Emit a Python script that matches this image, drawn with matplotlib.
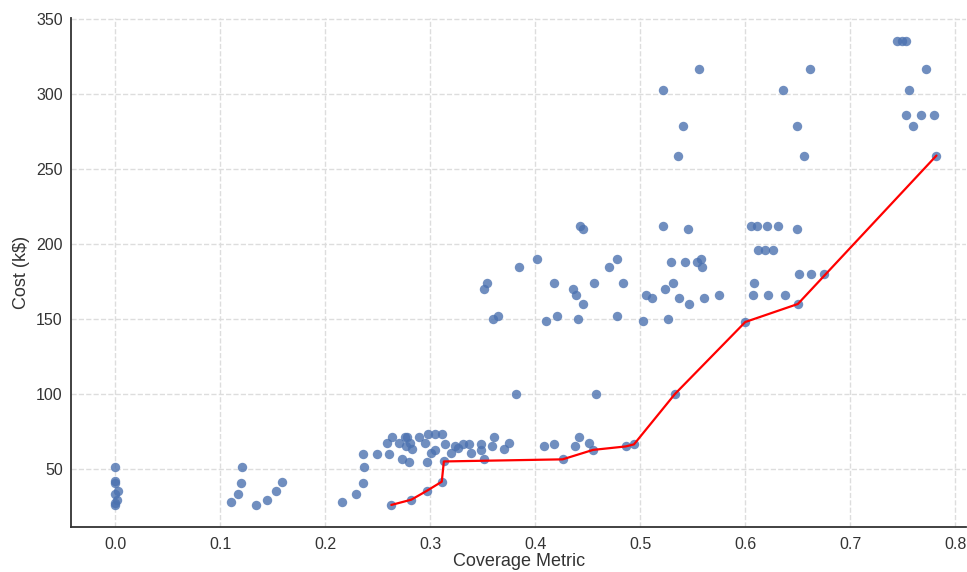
import matplotlib
matplotlib.use('Agg')
import matplotlib.pyplot as plt
import seaborn as sns

# all design points (coverage metric, cost in k$)
coverage = [
    0.000, 0.000, 0.000, 0.003, 0.000, 0.002, 0.000, 0.000,
    0.110, 0.117, 0.120, 0.121, 0.134, 0.145, 0.153, 0.159,
    0.216, 0.229, 0.236, 0.237, 0.236, 0.249, 0.261, 0.263, 0.259, 0.264,
    0.270, 0.273, 0.276, 0.278, 0.277, 0.281, 0.283, 0.280, 0.282, 0.289,
    0.295, 0.297, 0.297, 0.298, 0.305, 0.311, 0.301, 0.305, 0.314, 0.311,
    0.313, 0.320, 0.324, 0.326, 0.331, 0.337, 0.339, 0.348, 0.348, 0.351,
    0.359, 0.361, 0.370, 0.375,
    0.408, 0.418, 0.426, 0.438, 0.442, 0.451, 0.455, 0.486, 0.494, 0.533,
    0.351, 0.354, 0.360, 0.365, 0.382, 0.385, 0.402, 0.410, 0.421, 0.418,
    0.436, 0.439, 0.445, 0.441, 0.443, 0.445, 0.456, 0.458, 0.470, 0.478,
    0.484, 0.478, 0.503, 0.505, 0.511, 0.524, 0.526, 0.531, 0.537, 0.546,
    0.522, 0.545, 0.529, 0.543, 0.554, 0.558, 0.559, 0.561, 0.575,
    0.522, 0.541, 0.536, 0.556,
    0.600, 0.605, 0.611, 0.621, 0.631, 0.649, 0.612, 0.619, 0.626, 0.608,
    0.607, 0.622, 0.638, 0.651, 0.663, 0.675, 0.650, 0.636, 0.662, 0.649,
    0.656,
    0.744, 0.749, 0.753, 0.772, 0.756, 0.753, 0.767, 0.780, 0.760, 0.782,
]
cost = [
    51, 42, 40.5, 35.5, 33, 29.5, 27, 26,
    28, 33, 40.5, 51, 26, 29.5, 35.5, 41.5,
    28, 33, 40.5, 51, 60, 60, 60, 26, 67.6, 71.3,
    67.6, 56.4, 71.3, 71.3, 65.3, 67.6, 63, 54.7, 29.5, 71.3,
    67.6, 54.7, 35.5, 73, 73, 73, 60.4, 62.7, 66.4, 41.5,
    55, 60.4, 65, 64, 66.4, 66.4, 60.4, 66.4, 62.7, 56.4,
    65.3, 71, 63, 67.6,
    65, 66.4, 56.4, 65.3, 71, 67.6, 62.7, 65, 66.4, 100,
    170, 174, 150, 152, 100, 185, 190, 148.5, 152, 174,
    170, 166, 160, 150, 212, 210, 174, 100, 185, 190,
    174, 152, 148.5, 166, 164, 170, 150, 174, 164, 160,
    212, 210, 188, 188, 188, 190, 185, 164, 166,
    302.4, 279, 259, 317,
    148, 212, 212, 212, 212, 210, 196, 196, 196, 174,
    166, 166, 166, 180, 180, 180, 160, 302.4, 317, 279,
    259,
    335.5, 335.5, 335.5, 317, 302.4, 286, 286, 286, 279, 259,
]

# cheapest design for each coverage level (pareto front)
front_coverage = [0.263, 0.282, 0.297, 0.311, 0.313, 0.426, 0.455, 0.486,
                  0.494, 0.533, 0.600, 0.650, 0.782]
front_cost = [26, 29.5, 35.5, 41.5, 55, 56.4, 62.7, 65,
              66.4, 100, 148, 160, 259]

sns.set_style('white')
plt.rcParams['font.family'] = ['Liberation Sans', 'DejaVu Sans']

fig = plt.figure(figsize=(9.67, 5.72), dpi=100)
ax = fig.add_axes([0.0734, 0.0787, 0.926, 0.8898])

ax.scatter(coverage, cost, s=46, color='#4c72b0', alpha=0.8, linewidths=0, zorder=3)
ax.plot(front_coverage, front_cost, color='red', lw=1.6, zorder=4)

ax.set_xlim(-0.042, 0.8105)
ax.set_ylim(11.3, 350.7)
ax.set_xticks([0.0, 0.1, 0.2, 0.3, 0.4, 0.5, 0.6, 0.7, 0.8])
ax.set_yticks([50, 100, 150, 200, 250, 300, 350])

ax.grid(True, linestyle='--', color='#dddddd', lw=1)
ax.set_axisbelow(True)
for s in ['top', 'right']:
    ax.spines[s].set_visible(False)
for s in ['left', 'bottom']:
    ax.spines[s].set_color('#333333')
    ax.spines[s].set_linewidth(1.3)

ax.tick_params(labelsize=11.5, colors='#333333', length=0)
ax.tick_params(axis='y', pad=6)
ax.tick_params(axis='x', pad=7)
ax.set_xlabel('Coverage Metric', fontsize=13, color='#333333', labelpad=1)
ax.set_ylabel('Cost (k$)', fontsize=13, color='#333333', labelpad=4)

fig.savefig('out.png', dpi=100)
